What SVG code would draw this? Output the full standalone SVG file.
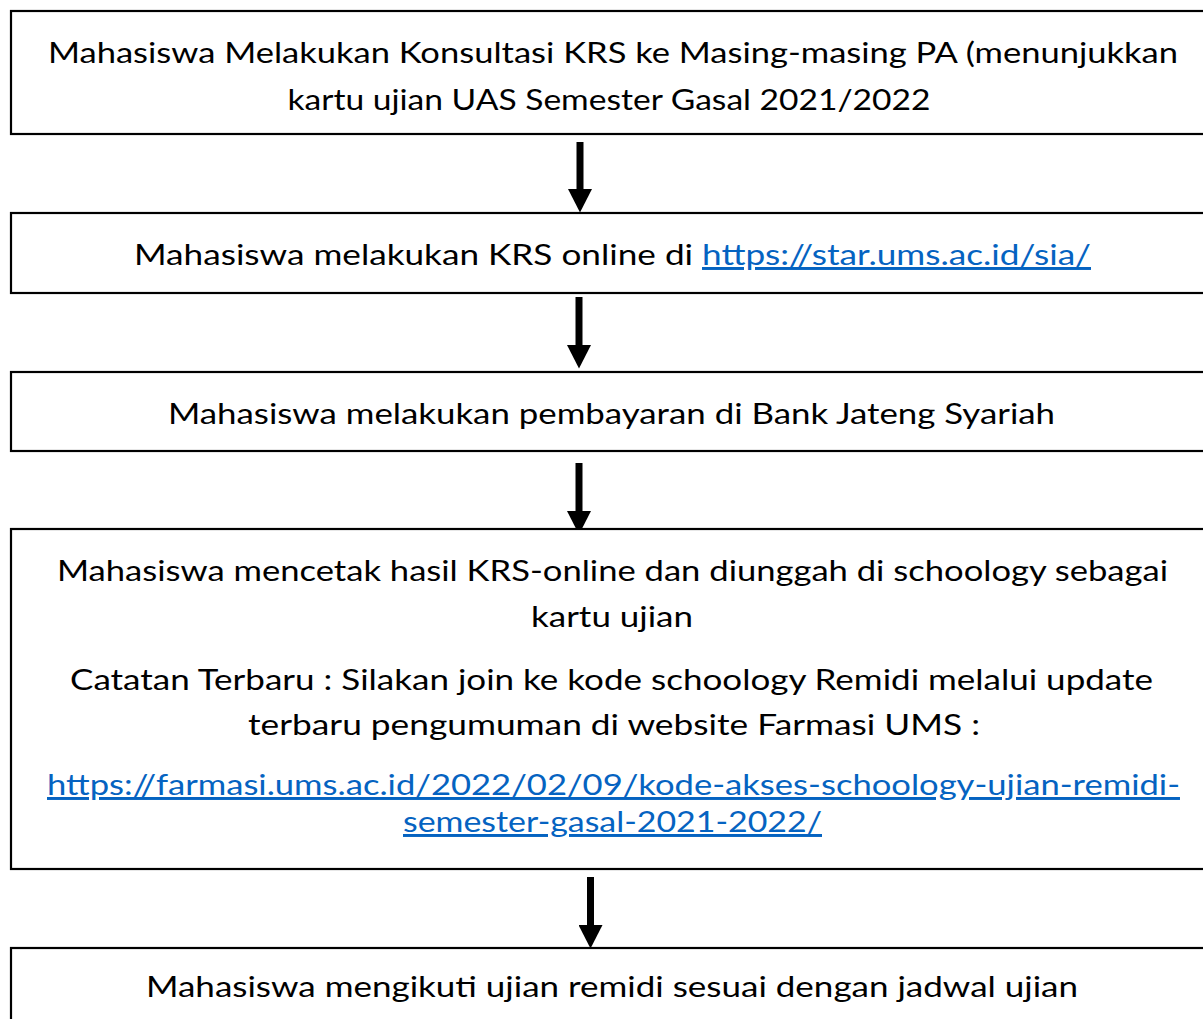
<svg xmlns="http://www.w3.org/2000/svg" width="1203" height="1019" viewBox="0 0 1203 1019">
  <style>
    .box { fill: #ffffff; stroke: #000000; stroke-width: 2.2; }
    .t { font-family: Lato, "Liberation Sans", sans-serif; font-size: 29.5px; fill: #000000; text-anchor: middle; }
    .link { fill: #0563C1; text-decoration: underline; }
    .conn { stroke: #000000; stroke-width: 7; fill: none; }
  </style>
  <defs>
    <marker id="head" markerUnits="userSpaceOnUse" markerWidth="24" markerHeight="24" viewBox="0 0 24 24" refX="0" refY="12" orient="auto">
      <path d="M0,0 L23.5,12 L0,24 Z" fill="#000000"/>
    </marker>
  </defs>
  <rect width="1203" height="1019" fill="#ffffff"/>

  <g id="connectors">
    <line class="conn" x1="580" y1="142" x2="580" y2="189" marker-end="url(#head)"/>
    <line class="conn" x1="579" y1="297" x2="579" y2="345" marker-end="url(#head)"/>
    <line class="conn" x1="579" y1="463" x2="579" y2="511" marker-end="url(#head)"/>
    <line class="conn" x1="590.5" y1="877" x2="590.5" y2="925" marker-end="url(#head)"/>
  </g>

  <g id="node1">
    <rect class="box" x="11" y="11" width="1210" height="123"/>
    <text class="t" x="613" y="63" textLength="1130" lengthAdjust="spacingAndGlyphs">Mahasiswa Melakukan Konsultasi KRS ke Masing-masing PA (menunjukkan</text>
    <text class="t" x="609" y="110" textLength="643" lengthAdjust="spacingAndGlyphs">kartu ujian UAS Semester Gasal 2021/2022</text>
  </g>

  <g id="node2">
    <rect class="box" x="11" y="213" width="1210" height="80"/>
    <text class="t" x="612.5" y="265" textLength="957" lengthAdjust="spacingAndGlyphs">Mahasiswa melakukan KRS online di <tspan class="link">https://star.ums.ac.id/sia/</tspan></text>
  </g>

  <g id="node3">
    <rect class="box" x="11" y="372" width="1210" height="79"/>
    <text class="t" x="611.5" y="424" textLength="887" lengthAdjust="spacingAndGlyphs">Mahasiswa melakukan pembayaran di Bank Jateng Syariah</text>
  </g>

  <g id="node4">
    <rect class="box" x="11" y="529" width="1210" height="340"/>
    <text class="t" x="612.5" y="581" textLength="1111" lengthAdjust="spacingAndGlyphs">Mahasiswa mencetak hasil KRS-online dan diunggah di schoology sebagai</text>
    <text class="t" x="612" y="627" textLength="162" lengthAdjust="spacingAndGlyphs">kartu ujian</text>
    <text class="t" x="611.5" y="690" textLength="1083" lengthAdjust="spacingAndGlyphs">Catatan Terbaru : Silakan join ke kode schoology Remidi melalui update</text>
    <text class="t" x="614" y="735" textLength="732" lengthAdjust="spacingAndGlyphs">terbaru pengumuman di website Farmasi UMS :</text>
    <text class="t link" x="613.5" y="795" textLength="1133" lengthAdjust="spacingAndGlyphs">https://farmasi.ums.ac.id/2022/02/09/kode-akses-schoology-ujian-remidi-</text>
    <text class="t link" x="612.5" y="832" textLength="419" lengthAdjust="spacingAndGlyphs">semester-gasal-2021-2022/</text>
  </g>

  <g id="node5">
    <rect class="box" x="11" y="948" width="1210" height="100"/>
    <text class="t" x="612" y="997" textLength="932" lengthAdjust="spacingAndGlyphs">Mahasiswa mengikuti ujian remidi sesuai dengan jadwal ujian</text>
  </g>
</svg>
